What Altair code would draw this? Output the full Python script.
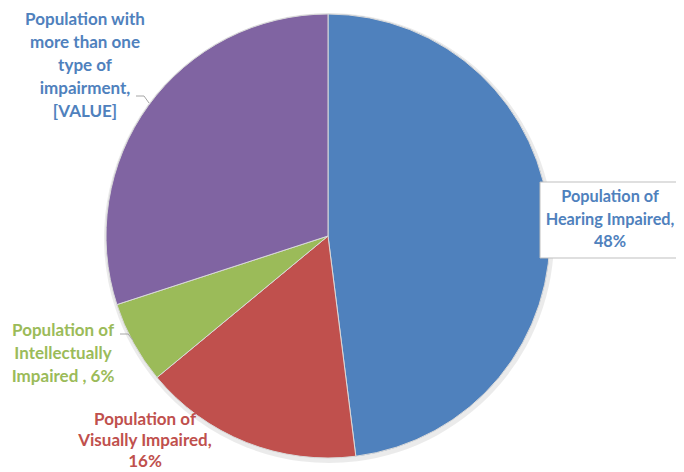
import altair as alt
import pandas as pd

categories = ["Population of Hearing Impaired", "Population of Visually Impaired",
              "Population of Intellectually Impaired", "Population with more than one type of impairment"]
values = [48, 16, 6, 30]
colors = ["#4F81BD", "#C0504D", "#9BBB59", "#8064A2"]

df = pd.DataFrame({"category": categories, "value": values, "order": list(range(len(values)))})

CX, CY, R = 320, 228, 222
FONT = "Lato"

base = alt.Chart(df)

shadow = base.mark_arc(outerRadius=R + 3, fill="#000000", opacity=0.08).encode(
    theta=alt.Theta("value:Q", stack=True),
    order=alt.Order("order:Q"),
    x=alt.value(CX + 1), y=alt.value(CY + 2),
)

pie = base.mark_arc(outerRadius=R, stroke="#D9D9D9", strokeWidth=1).encode(
    theta=alt.Theta("value:Q", stack=True),
    order=alt.Order("order:Q"),
    color=alt.Color("category:N", scale=alt.Scale(domain=categories, range=colors), legend=None),
    x=alt.value(CX), y=alt.value(CY),
)

one = alt.Chart(pd.DataFrame({"a": [0]}))

box = one.mark_rect(fill="white", stroke="#BFBFBF", strokeWidth=1).encode(
    x=alt.value(532), x2=alt.value(682), y=alt.value(174), y2=alt.value(250)
)

def label(lines, x, y, color, lh=23, fs=17):
    return one.mark_text(text=lines, font=FONT, fontWeight="bold", fontSize=fs,
                         lineHeight=lh, align="center", baseline="middle",
                         color=color).encode(x=alt.value(x), y=alt.value(y))

def seg(x1, y1, x2, y2):
    return one.mark_rule(color="#A6A6A6", strokeWidth=1).encode(
        x=alt.value(x1), y=alt.value(y1), x2=alt.value(x2), y2=alt.value(y2))

labels = [
    label(["Population of", "Hearing Impaired,", "48%"], 602, 189, "#4F81BD", 22.5, 16.3),
    label(["Population of", "Visually Impaired,", "16%"], 137, 412, "#C0504D", 21),
    label(["Population of", "Intellectually", "Impaired , 6%"], 55, 323, "#9BBB59"),
    label(["Population with", "more than one", "type of", "impairment,", "[VALUE]"], 77, 12, "#4F81BD"),
]

segs = [seg(128, 88, 136, 88), seg(136, 88, 141, 95),
        seg(112, 326, 120, 326), seg(120, 326, 125, 332)]

chart = alt.layer(shadow, pie, box, *segs, *labels).properties(
    width=668, height=464,
    autosize=alt.AutoSizeParams(type="fit", contains="padding"),
    padding=0,
).configure_view(stroke=None)

chart.save("out.html", embed_options={"renderer": "svg", "actions": False})
